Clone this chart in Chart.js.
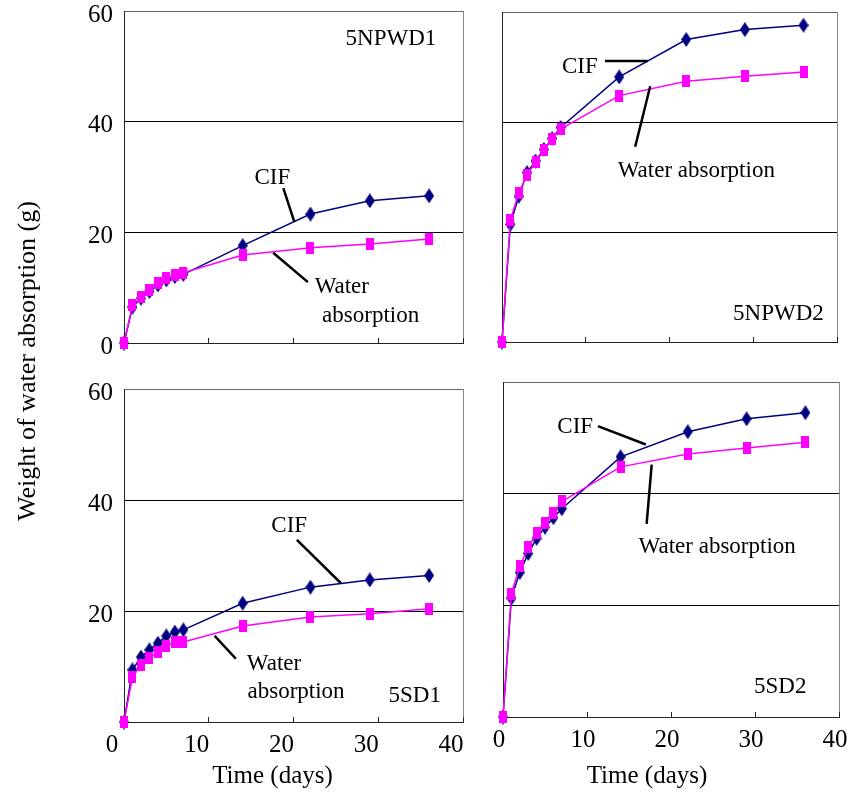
<!DOCTYPE html>
<html>
<head>
<meta charset="utf-8">
<script src="https://cdn.jsdelivr.net/npm/chart.js@4.4.1/dist/chart.umd.min.js"></script>
<style>
  html, body { margin: 0; padding: 0; background: #fff; }
  #page { position: relative; width: 847px; height: 794px; overflow: hidden; }
  #page canvas { position: absolute; }
  #ytitle {
    position: absolute; left: 27px; top: 361px;
    transform: translate(-50%, -50%) rotate(-90deg);
    font: 26px "Liberation Serif", "Times New Roman", serif;
    white-space: nowrap; color: #000;
  }
</style>
</head>
<body>
<div id="page">
  <canvas id="npwd1"></canvas>
  <canvas id="npwd2"></canvas>
  <canvas id="sd1"></canvas>
  <canvas id="sd2"></canvas>
  <div id="ytitle">Weight of water absorption (g)</div>
</div>
<script>
// ---- data ----
const days = [0, 1, 2, 3, 4, 5, 6, 7, 14, 22, 29, 36];
const xTicks = [0, 10, 20, 30, 40];
const yTicks = [0, 20, 40, 60];

const cifNPWD1   = [0, 6.5, 8.1, 9.3, 10.5, 11.4, 12.0, 12.4, 17.6, 23.3, 25.7, 26.6];
const waterNPWD1 = [0, 6.8, 8.4, 9.6, 10.8, 11.7, 12.3, 12.7, 15.9, 17.2, 17.9, 18.8];

const cifNPWD2   = [0, 21.4, 26.5, 30.8, 32.9, 35.0, 37.0, 39.0, 48.2, 55.0, 56.8, 57.6];
const waterNPWD2 = [0, 22.2, 27.1, 30.4, 32.7, 34.9, 36.9, 38.7, 44.8, 47.4, 48.3, 49.1];

const cifSD1   = [0, 9.4, 11.7, 13.0, 14.2, 15.5, 16.2, 16.6, 21.4, 24.3, 25.6, 26.4];
const waterSD1 = [0, 8.1, 10.3, 11.5, 12.6, 13.7, 14.4, 14.4, 17.3, 18.9, 19.5, 20.4];

const cifSD2   = [0, 21.3, 25.9, 29.3, 32.0, 34.0, 35.7, 37.3, 46.6, 51.1, 53.4, 54.5];
const waterSD2 = [0, 22.1, 27.0, 30.4, 32.9, 34.8, 36.6, 38.6, 44.8, 47.1, 48.2, 49.2];

const FONT = '"Liberation Serif", "Times New Roman", serif';

// marker images: tall navy diamond, tall magenta block
function makeMarker(w, h, color, diamond) {
  const c = document.createElement('canvas');
  c.width = w; c.height = h;
  const g = c.getContext('2d');
  g.fillStyle = color;
  if (diamond) {
    g.beginPath();
    g.moveTo(w / 2, 0); g.lineTo(w, h / 2); g.lineTo(w / 2, h); g.lineTo(0, h / 2);
    g.closePath(); g.fill();
  } else {
    g.fillRect(0, 0, w, h);
  }
  return c;
}
const diamondImg = makeMarker(10, 15, '#000080', true);
const squareImg = makeMarker(8, 12, '#ff00ff', false);

// labels and leader lines, placed in data units of each panel
const panels = [
  {
    id: 'npwd1', left: 0, area: { l: 124, t: 11, r: 463, b: 343 },
    cif: cifNPWD1, water: waterNPWD1, yLabels: true, xLabels: false,
    texts: [['5NPWD1', 31.5, 53.9], ['CIF', 17.5, 28.7], ['Water', 25.7, 9.0], ['absorption', 29.1, 3.8]],
    leaders: [[18.8, 28.0, 20.1, 21.9], [17.6, 16.3, 21.7, 11.0]]
  },
  {
    id: 'npwd2', left: 492, area: { l: 502, t: 12, r: 837, b: 342 },
    cif: cifNPWD2, water: waterNPWD2, yLabels: false, xLabels: false,
    texts: [['5NPWD2', 33.0, 4.0], ['CIF', 9.3, 48.9], ['Water absorption', 23.2, 30.0]],
    leaders: [[12.3, 51.1, 17.4, 51.1], [17.7, 46.5, 15.9, 35.5]]
  },
  {
    id: 'sd1', left: 0, area: { l: 124, t: 389, r: 463, b: 722 },
    cif: cifSD1, water: waterSD1, yLabels: true, hideYZero: true, xLabels: true, xShift: -12, timeShift: -21,
    texts: [['5SD1', 34.3, 3.6], ['CIF', 19.5, 34.2], ['Water', 17.7, 9.4], ['absorption', 20.3, 4.3]],
    leaders: [[20.4, 32.8, 25.6, 25.0], [10.7, 15.5, 13.2, 11.4]]
  },
  {
    id: 'sd2', left: 493, area: { l: 503, t: 382, r: 839, b: 717 },
    cif: cifSD2, water: waterSD2, yLabels: false, xLabels: true, xShift: -4, timeShift: -24,
    texts: [['5SD2', 33.0, 4.3], ['CIF', 8.6, 50.9], ['Water absorption', 25.5, 29.3]],
    leaders: [[11.3, 52.1, 17.0, 48.8], [17.7, 45.2, 17.1, 34.6]]
  }
];

function notesPlugin(p) {
  return {
    id: 'notes',
    afterDraw(chart) {
      const { ctx, scales: { x, y }, chartArea } = chart;
      ctx.save();
      ctx.fillStyle = '#000';
      ctx.textAlign = 'center';
      ctx.textBaseline = 'alphabetic';
      ctx.font = '23px ' + FONT;
      p.texts.forEach(([t, tx, ty]) => ctx.fillText(t, x.getPixelForValue(tx), y.getPixelForValue(ty)));
      ctx.strokeStyle = '#000';
      ctx.lineWidth = 2.5;
      p.leaders.forEach(([x1, y1, x2, y2]) => {
        ctx.beginPath();
        ctx.moveTo(x.getPixelForValue(x1), y.getPixelForValue(y1));
        ctx.lineTo(x.getPixelForValue(x2), y.getPixelForValue(y2));
        ctx.stroke();
      });
      if (p.xLabels) {
        ctx.font = '25px ' + FONT;
        ctx.fillText('Time (days)', (chartArea.left + chartArea.right) / 2 + p.timeShift, chart.height - 11);
      }
      ctx.restore();
    }
  };
}

// keep the plot box fixed: no extra room for overflowing tick labels
function noOverflow(s) {
  s.paddingTop = s.paddingBottom = s.paddingLeft = s.paddingRight = 0;
}

function makePanel(p) {
  const padTop = 16, padRight = 14;
  const yW = p.area.l - p.left;
  const xH = p.xLabels ? 794 - p.area.b : 16;
  const canvas = document.getElementById(p.id);
  canvas.width = p.area.r + padRight - p.left;
  canvas.height = padTop + (p.area.b - p.area.t) + xH;
  canvas.style.left = p.left + 'px';
  canvas.style.top = (p.area.t - padTop) + 'px';

  const pts = arr => days.map((d, i) => ({ x: d, y: arr[i] }));

  new Chart(canvas, {
    type: 'line',
    data: {
      datasets: [
        {
          label: 'Water absorption',
          data: pts(p.water),
          borderColor: '#ff00ff',
          borderWidth: 1.5,
          pointStyle: squareImg,
          clip: false
        },
        {
          label: 'CIF',
          data: pts(p.cif),
          borderColor: '#000080',
          borderWidth: 1.5,
          pointStyle: diamondImg,
          clip: false
        }
      ]
    },
    options: {
      responsive: false,
      animation: false,
      devicePixelRatio: 1,
      layout: { padding: { top: padTop, right: padRight, left: 0, bottom: 0 } },
      plugins: { legend: { display: false }, tooltip: { enabled: false } },
      scales: {
        x: {
          type: 'linear',
          min: xTicks[0],
          max: xTicks[xTicks.length - 1],
          afterBuildTicks: s => { s.ticks = xTicks.map(v => ({ value: v })); },
          afterFit: s => { s.height = xH; noOverflow(s); },
          ticks: {
            display: p.xLabels,
            color: '#000',
            font: { family: FONT, size: 25 },
            padding: 13,
            labelOffset: p.xShift || 0,
            maxRotation: 0
          },
          grid: {
            color: c => (c.tick && c.tick.value === 40) ? '#888' : 'rgba(0,0,0,0)',
            tickColor: '#222',
            tickLength: -5
          },
          border: { color: '#222' }
        },
        y: {
          min: yTicks[0],
          max: yTicks[yTicks.length - 1],
          afterBuildTicks: s => { s.ticks = yTicks.map(v => ({ value: v })); },
          afterFit: s => { s.width = yW; noOverflow(s); },
          ticks: {
            display: p.yLabels,
            color: '#000',
            font: { family: FONT, size: 25 },
            padding: 11,
            labelOffset: 4,
            callback: v => (p.hideYZero && v === 0) ? '' : v
          },
          grid: {
            drawTicks: false,
            color: c => {
              const v = c.tick ? c.tick.value : 0;
              if (v === 0) return 'rgba(0,0,0,0)';
              return v === 60 ? '#666' : '#000';
            }
          },
          border: { color: '#222' }
        }
      }
    },
    plugins: [notesPlugin(p)]
  });
}

panels.forEach(makePanel);
</script>
</body>
</html>
